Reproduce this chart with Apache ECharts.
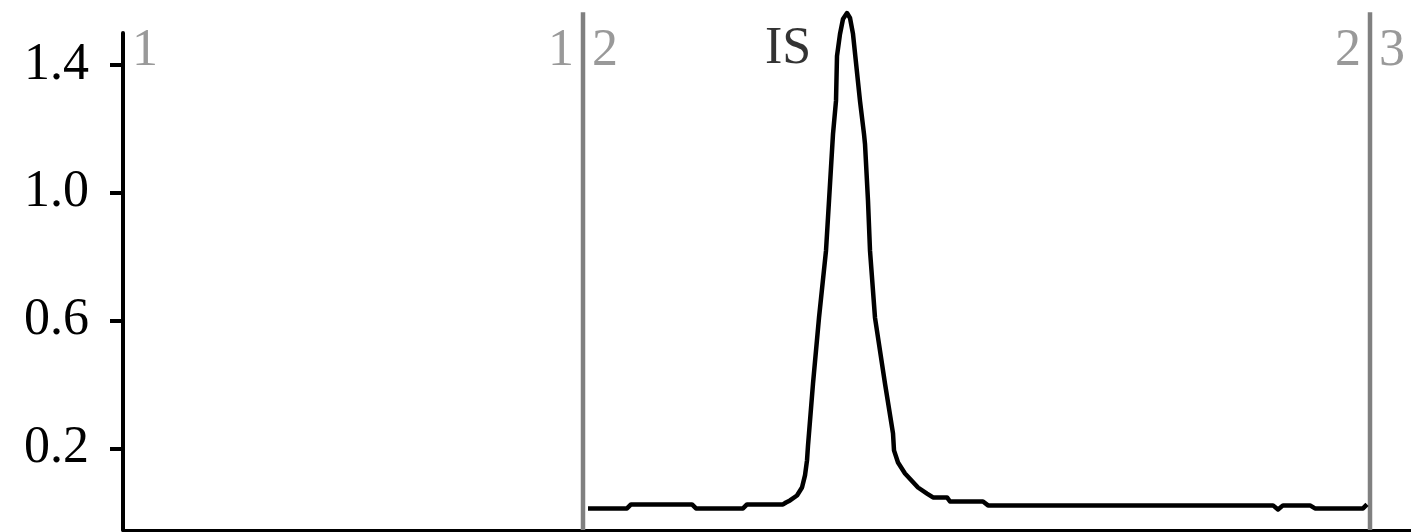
<!DOCTYPE html>
<html>
<head>
<meta charset="utf-8">
<script src="https://cdn.jsdelivr.net/npm/echarts@6/dist/echarts.min.js"></script>
<style>
  html, body { margin: 0; padding: 0; background: #fff; }
  #chart { width: 1411px; height: 532px; }
</style>
</head>
<body>
<div id="chart"></div>
<script>
// trace: [time, signal]
const traceX = [46.5, 50.4, 50.8, 56.9, 57.3, 62.0, 62.4, 66.0, 66.3, 66.7, 67.4, 67.9, 68.2, 68.4, 68.5,
  69.0, 69.6, 70.3, 70.6, 71.0, 71.3, 71.4, 71.7, 72.0, 72.4, 72.7, 73.0, 73.7, 74.1, 74.2, 74.5, 74.7,
  75.2, 76.2, 77.0, 77.1, 77.5, 78.2, 79.5, 80.4, 81.0, 82.4, 82.7, 86.0, 86.5, 115.0, 115.5, 116.0,
  118.7, 119.2, 124.0, 124.4]
const traceY = [0.0125, 0.0125, 0.025, 0.025, 0.0125, 0.0125, 0.025, 0.025, 0.031, 0.0375, 0.053, 0.078, 0.116, 0.1625, 0.209,
  0.403, 0.609, 0.819, 0.975, 1.184, 1.2875, 1.428, 1.497, 1.544, 1.5625, 1.547, 1.497, 1.2875, 1.184, 1.153, 0.975, 0.819,
  0.609, 0.403, 0.247, 0.194, 0.156, 0.122, 0.078, 0.059, 0.047, 0.047, 0.034, 0.034, 0.022, 0.022, 0.009, 0.022,
  0.022, 0.0125, 0.0125, 0.025]

const segmentStarts = [0, 46.0, 124.7]
const segmentEnds = [46.0, 124.7]
const startLabels = ["1", "2", "3"]
const endLabels = ["1", "2"]
const boundaries = [46.0, 124.7]

const yTicks = [0.2, 0.6, 1.0, 1.4]
const peakLabel = "IS"
const peakX = 72.4
const peakY = 1.5625

const yMin = -0.055
const yMax = 1.5
const labelLevel = 1.444
const boundaryTop = 1.565

const serif = "Liberation Serif"
const gray = "#808080"
const fontSize = 52

const chart = echarts.init(document.getElementById("chart"))

// one short vertical line series per segment boundary
const boundarySeries = boundaries.map((b) => ({
  type: "line",
  data: [[b, yMin], [b, boundaryTop]],
  showSymbol: false,
  clip: false,
  silent: true,
  lineStyle: { color: gray, width: 4.5 },
  z: 1,
}))

const option = {
  animation: false,
  backgroundColor: "#fff",
  grid: { left: 123, right: 0, top: 33, bottom: 2 },
  xAxis: {
    type: "value",
    min: 0,
    max: 128.8,
    axisLine: { onZero: false, lineStyle: { color: "#000", width: 3 } },
    axisTick: { show: false },
    axisLabel: { show: false },
    splitLine: { show: false },
  },
  yAxis: {
    type: "value",
    min: yMin,
    max: yMax,
    offset: 6,
    axisLine: { show: true, lineStyle: { color: "#000", width: 4 } },
    axisTick: { show: true, length: 13, lineStyle: { color: "#000", width: 4 }, customValues: yTicks },
    axisLabel: {
      customValues: yTicks,
      formatter: (v) => v.toFixed(1),
      margin: 28,
      color: "#000",
      fontFamily: serif,
      fontSize: fontSize,
    },
    splitLine: { show: false },
  },
  series: [
    ...boundarySeries,
    {
      name: "trace",
      type: "line",
      data: traceX.map((x, i) => [x, traceY[i]]),
      showSymbol: false,
      clip: false,
      z: 3,
      lineStyle: { color: "#000", width: 4.5, join: "round" },
    },
    {
      name: "peak",
      type: "scatter",
      clip: false,
      symbolSize: 2,
      itemStyle: { color: "transparent" },
      data: [[peakX, peakY]],
      label: {
        show: true,
        position: "inside",
        formatter: peakLabel,
        offset: [-59, 36],
        color: "#000",
        fontFamily: serif,
        fontSize: fontSize,
      },
    },
    {
      name: "starts",
      type: "scatter",
      symbolSize: 2,
      itemStyle: { color: "transparent" },
      data: segmentStarts.map((x, i) => ({ value: [x, labelLevel], name: startLabels[i] })),
      label: {
        show: true,
        position: "right",
        distance: 8,
        formatter: (p) => p.name,
        color: gray,
        fontFamily: serif,
        fontSize: fontSize,
      },
    },
    {
      name: "ends",
      type: "scatter",
      symbolSize: 2,
      itemStyle: { color: "transparent" },
      data: segmentEnds.map((x, i) => ({ value: [x, labelLevel], name: endLabels[i] })),
      label: {
        show: true,
        position: "left",
        distance: 8,
        formatter: (p) => p.name,
        color: gray,
        fontFamily: serif,
        fontSize: fontSize,
      },
    },
  ],
}

chart.setOption(option)

window.addEventListener("resize", () => chart.resize())
</script>
</body>
</html>
